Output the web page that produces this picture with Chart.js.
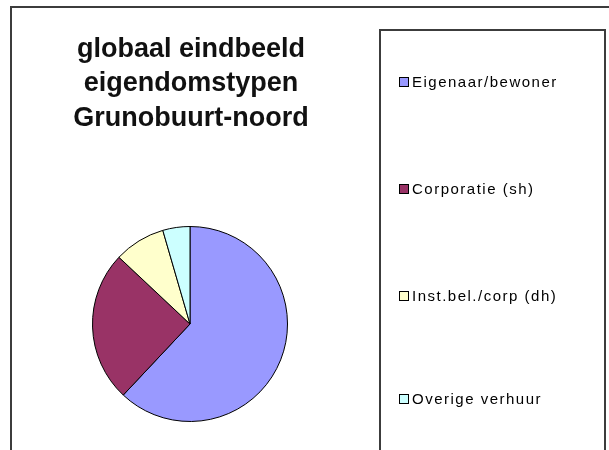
<!DOCTYPE html>
<html>
<head>
<meta charset="utf-8">
<script src="https://cdn.jsdelivr.net/npm/chart.js@4/dist/chart.umd.min.js"></script>
<style>
  html, body { margin: 0; padding: 0; background: #ffffff; }
  #wrap { position: relative; width: 609px; height: 450px; overflow: hidden; }
  canvas { display: block; }
</style>
</head>
<body>
<div id="wrap"><canvas id="c" width="609" height="450"></canvas></div>
<script>
const categories = ['Eigenaar/bewoner', 'Corporatie (sh)', 'Inst.bel./corp (dh)', 'Overige verhuur'];
const shares = [62, 25, 8.5, 4.5];
const sliceColors = ['#9999FF', '#993366', '#FFFFCC', '#CCFFFF'];
const titleLines = ['globaal eindbeeld', 'eigendomstypen', 'Grunobuurt-noord'];

const framePlugin = {
  id: 'frameAndText',
  beforeDraw(chart) {
    const ctx = chart.ctx;
    ctx.save();
    ctx.fillStyle = '#ffffff';
    ctx.fillRect(0, 0, chart.width, chart.height);
    // outer chart frame
    ctx.strokeStyle = '#3c3c3c';
    ctx.lineWidth = 2;
    ctx.strokeRect(11, 7, 620, 470);
    // legend box
    ctx.strokeRect(380, 30, 225, 440);
    ctx.restore();
  },
  afterDraw(chart) {
    const ctx = chart.ctx;
    ctx.save();
    // title
    ctx.fillStyle = '#111111';
    ctx.font = 'bold 27px "Liberation Sans", Arial, sans-serif';
    ctx.textAlign = 'center';
    ctx.textBaseline = 'alphabetic';
    const baselines = [57, 91, 126];
    titleLines.forEach((t, i) => ctx.fillText(t, 191, baselines[i]));
    // legend
    const labels = chart.data.labels;
    const colors = chart.data.datasets[0].backgroundColor;
    const ys = [82, 189, 296, 399];
    ctx.textAlign = 'left';
    ctx.textBaseline = 'middle';
    ctx.font = '15px "Liberation Sans", Arial, sans-serif';
    ctx.letterSpacing = '1.5px';
    labels.forEach((lab, i) => {
      const y = ys[i];
      ctx.fillStyle = colors[i];
      ctx.fillRect(399.5, y - 4.5, 9, 9);
      ctx.strokeStyle = '#000000';
      ctx.lineWidth = 1;
      ctx.strokeRect(399.5, y - 4.5, 9, 9);
      ctx.fillStyle = '#000000';
      ctx.fillText(lab, 412, y + 0.5);
    });
    ctx.restore();
  }
};

new Chart(document.getElementById('c'), {
  type: 'pie',
  data: {
    labels: categories,
    datasets: [{
      data: shares,
      backgroundColor: sliceColors,
      borderColor: '#000000',
      borderWidth: 1,
      hoverOffset: 0,
      offset: 0
    }]
  },
  options: {
    responsive: false,
    devicePixelRatio: 1,
    animation: false,
    layout: { padding: { left: 92, top: 226, right: 321, bottom: 28 } },
    plugins: {
      legend: { display: false },
      title: { display: false },
      tooltip: { enabled: false }
    }
  },
  plugins: [framePlugin]
});
</script>
</body>
</html>
